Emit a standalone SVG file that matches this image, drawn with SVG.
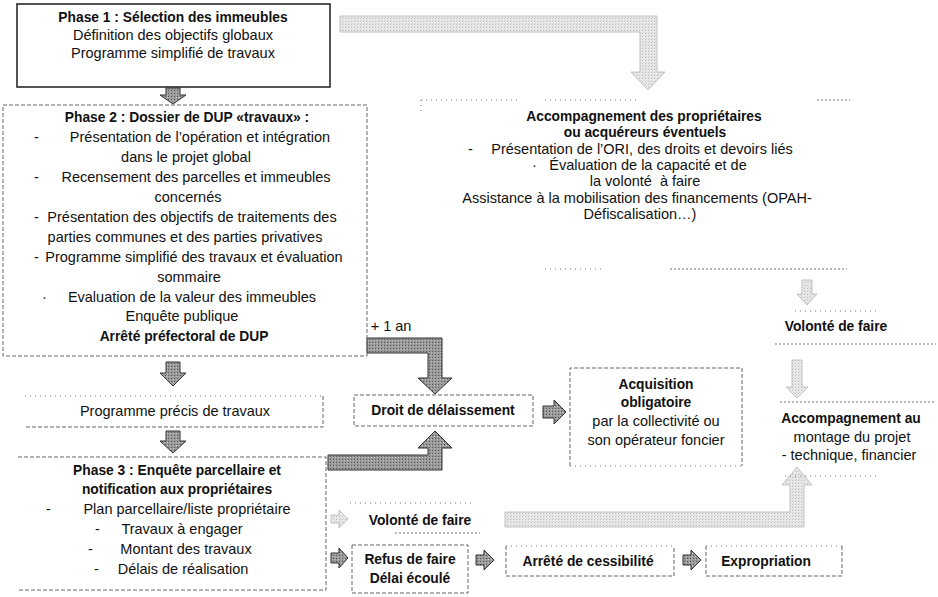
<svg xmlns="http://www.w3.org/2000/svg" width="938" height="597" viewBox="0 0 938 597">
<style>
.t{font-family:"Liberation Sans",Arial,sans-serif;font-size:14.5px;fill:#111;text-anchor:middle}
.s{text-anchor:start}
.b{font-weight:bold;font-size:13.8px}
.box{fill:none;stroke:#666;stroke-width:1;stroke-dasharray:4 2}
.solid{fill:none;stroke:#2a2a2a;stroke-width:1.6}
.dot{fill:none;stroke:#777;stroke-width:1;stroke-dasharray:1 4}
.dot2{fill:none;stroke:#777;stroke-width:1;stroke-dasharray:2 2}
.dark{fill:url(#pd);stroke:#333;stroke-width:1}
.light{fill:url(#pl);stroke:#c2c2c2;stroke-width:1}
</style>
<defs>
<pattern id="pd" width="3" height="3" patternUnits="userSpaceOnUse"><rect width="3" height="3" fill="#9a9a9a"/><rect width="1" height="1" fill="#555"/><rect x="2" y="1" width="1" height="1" fill="#c0c0c0"/></pattern>
<pattern id="pl" width="3" height="3" patternUnits="userSpaceOnUse"><rect width="3" height="3" fill="#e9e9e9"/><rect width="1" height="1" fill="#b8b8b8"/><rect x="1" y="2" width="1" height="1" fill="#d2d2d2"/></pattern>
</defs>
<rect width="938" height="597" fill="#fff"/>

<g id="connectors">
<path class="dark" d="M166,88 H180 V95 H186 L173,104 L160,95 H166 Z"/>
<path class="dark" d="M166,362 H180 V373 H186 L173,386 L160,373 H166 Z"/>
<path class="dark" d="M166,431 H180 V441 H186 L173,453 L160,441 H166 Z"/>
<path class="light" d="M340,16 H657 V72 H665 L648,90 L631,72 H640 V32 H340 Z"/>
<path class="dark" d="M367,338 H442 V378 H452 L435,394 L418,378 H428 V353 H367 Z"/>
<path class="dark" d="M328,455 H428 V448 H418 L435,431 L452,448 H442 V470 H328 Z"/>
<path class="dark" d="M543,406 H554 V400 L566,412 L554,424 V418 H543 Z"/>
<path class="light" d="M802,280 H812 V294 H817 L807,305 L797,294 H802 Z"/>
<path class="light" d="M792,360 H802 V387 H808 L797,398 L786,387 H792 Z"/>
<path class="light" d="M505,512 H790 V485 H782 L797,467 L812,485 H804 V527 H505 Z"/>
<path class="light" d="M331,515 H339 V510 L348,519 L339,528 V523 H331 Z"/>
<path class="dark" d="M331,553 H339 V548 L348,558 L339,568 V563 H331 Z"/>
<path class="dark" d="M476,555 H484 V550 L494,560 L484,570 V565 H476 Z"/>
<path class="dark" d="M683,555 H691 V550 L701,560 L691,570 V565 H683 Z"/>
<text class="t" x="391" y="331" font-size="13">+ 1 an</text>
</g>

<g id="phase1">
<rect class="solid" x="17" y="4" width="313" height="83"/>
<text class="t b" x="173" y="22">Phase 1 : Sélection des immeubles</text>
<text class="t" x="173" y="40">Définition des objectifs globaux</text>
<text class="t" x="173" y="58">Programme simplifié de travaux</text>
</g>

<g id="phase2">
<rect class="box" x="3" y="105" width="364" height="251"/>
<text class="t b" x="187" y="122">Phase 2 : Dossier de DUP «travaux» :</text>
<text class="t s" x="34" y="142">-</text>
<text class="t" x="200" y="142">Présentation de l’opération et intégration</text>
<text class="t" x="186" y="162">dans le projet global</text>
<text class="t s" x="34" y="182">-</text>
<text class="t" x="196" y="182">Recensement des parcelles et immeubles</text>
<text class="t" x="188" y="202">concernés</text>
<text class="t s" x="34" y="222">-</text>
<text class="t" x="192" y="222">Présentation des objectifs de traitements des</text>
<text class="t" x="185" y="242">parties communes et des parties privatives</text>
<text class="t s" x="34" y="262">-</text>
<text class="t" x="194" y="262">Programme simplifié des travaux et évaluation</text>
<text class="t" x="189" y="282">sommaire</text>
<text class="t s" x="42" y="302">·</text>
<text class="t" x="192" y="302">Evaluation de la valeur des immeubles</text>
<text class="t" x="182" y="321">Enquête publique</text>
<text class="t b" x="184" y="341">Arrêté préfectoral de DUP</text>
</g>

<g id="programme">
<path class="dot" d="M25,396 H323"/>
<path class="box" d="M323,396 V427 H25"/>
<text class="t" x="175" y="416">Programme précis de travaux</text>
</g>

<g id="phase3">
<path class="box" d="M18,457 H326 V590 H18"/>
<text class="t b" x="177" y="475">Phase 3 : Enquête parcellaire et</text>
<text class="t b" x="177" y="494">notification aux propriétaires</text>
<text class="t s" x="46" y="514">-</text>
<text class="t" x="187" y="514">Plan parcellaire/liste propriétaire</text>
<text class="t s" x="95" y="534">-</text>
<text class="t" x="182" y="534">Travaux à engager</text>
<text class="t s" x="88" y="554">-</text>
<text class="t" x="186" y="554">Montant des travaux</text>
<text class="t s" x="94" y="574">-</text>
<text class="t" x="183" y="574">Délais de réalisation</text>
</g>

<g id="accompagnement">
<path class="dot" d="M421,100 V112 M421,100 H520 M545,100 H637"/>
<path class="dot2" d="M817,100 H850"/>
<text class="t b" x="644" y="121">Accompagnement des propriétaires</text>
<text class="t b" x="645" y="137">ou acquéreurs éventuels</text>
<text class="t s" x="468" y="154">-</text>
<text class="t" x="642" y="154">Présentation de l’ORI, des droits et devoirs liés</text>
<text class="t s" x="532" y="170">·</text>
<text class="t" x="648" y="170">Évaluation de la capacité et de</text>
<text class="t" x="645" y="186" xml:space="preserve">la volonté  à faire</text>
<text class="t" x="637" y="203">Assistance à la mobilisation des financements (OPAH-</text>
<text class="t" x="640" y="219">Défiscalisation…)</text>
<path class="dot" d="M545,269 H603"/>
<path class="dot2" d="M670,269 H847"/>
</g>

<g id="volonte1">
<path class="dot" d="M795,311 H880"/>
<text class="t b" x="836" y="331">Volonté de faire</text>
<path class="dot2" d="M775,344 H936"/>
</g>

<g id="accompagnement-montage">
<path class="dot2" d="M780,402 H936"/>
<text class="t b" x="851" y="423">Accompagnement au</text>
<text class="t" x="852" y="442">montage du projet</text>
<text class="t" x="849" y="460">- technique, financier</text>
<path class="dot" d="M785,476 H880"/>
</g>

<g id="droit">
<rect class="box" x="354" y="395" width="179" height="31"/>
<text class="t b" x="443" y="415">Droit de délaissement</text>
</g>

<g id="acquisition">
<path class="box" d="M570,466 V368 H742 V466"/>
<path class="dot" d="M570,466 H742"/>
<text class="t b" x="656" y="389">Acquisition</text>
<text class="t b" x="656" y="407">obligatoire</text>
<text class="t" x="656" y="426">par la collectivité ou</text>
<text class="t" x="656" y="445">son opérateur foncier</text>
</g>

<g id="volonte2">
<path class="dot" d="M350,503 H475"/>
<text class="t b" x="420" y="525">Volonté de faire</text>
<path class="dot2" d="M395,533 H480"/>
</g>

<g id="refus">
<rect class="box" x="352" y="545" width="116" height="48"/>
<text class="t b" x="410" y="564">Refus de faire</text>
<text class="t b" x="410" y="583">Délai écoulé</text>
</g>

<g id="cessibilite">
<path class="dot" d="M506,546 H674"/>
<path class="box" d="M506,546 V576 H674 V546"/>
<text class="t b" x="588" y="566">Arrêté de cessibilité</text>
</g>

<g id="expropriation">
<path class="dot" d="M706,546 H842"/>
<path class="box" d="M706,546 V576 H842 V546"/>
<text class="t b" x="766" y="566">Expropriation</text>
</g>
</svg>
